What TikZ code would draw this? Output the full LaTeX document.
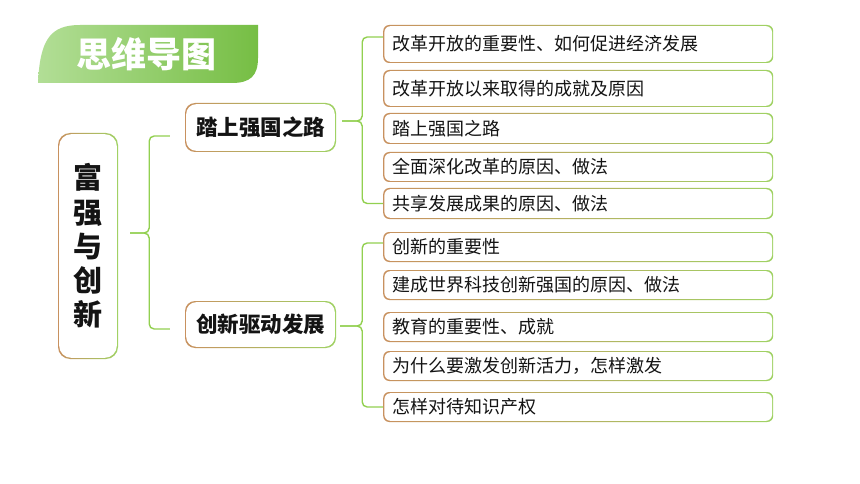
\documentclass[tikz,border=0pt]{standalone}
\usepackage{fontspec}
\setmainfont{Noto Sans CJK SC}
\usetikzlibrary{calc}
\definecolor{bL}{RGB}{200,145,95}
\definecolor{bR}{RGB}{160,210,100}
\definecolor{brk}{RGB}{146,208,80}
\definecolor{tL}{RGB}{178,222,150}
\definecolor{tR}{RGB}{118,190,68}
\definecolor{txt}{RGB}{20,20,20}
\begin{document}
\begin{tikzpicture}[x=1pt,y=-1pt,
  gbox/.style={rounded corners=#1, left color=bL, right color=bR,
    path picture={\fill[white,rounded corners=#1]
      ($(path picture bounding box.south west)+(1.2pt,1.2pt)$) rectangle
      ($(path picture bounding box.north east)-(1.2pt,1.2pt)$);}},
  subbox/.style={gbox=6pt, minimum width=390pt, text width=372pt, align=left,
    inner xsep=9pt, inner ysep=0pt, anchor=west, text=txt,
    font=\fontsize{18}{20}\selectfont},
  mainbox/.style={gbox=10pt, minimum width=151pt, inner sep=0pt, text=txt,
    font=\bfseries\fontsize{21.5}{24}\selectfont},
  brace/.style={draw=brk, line width=1.4pt, rounded corners=5pt}]
\useasboundingbox (0,0) rectangle (860,484);
\fill[white] (0,0) rectangle (860,484);
% title banner
\shade[left color=tL, right color=tR]
  (38,83) .. controls (40,40) and (50,25) .. (80,25) -- (258,25) -- (258,58)
  .. controls (258,76) and (250,83) .. (232,83) -- cycle;
\node[text=white, font=\bfseries\fontsize{35}{40}\selectfont, inner sep=0pt] (title) at (146,54) {思维导图};
% main box
\node[gbox=12pt, minimum width=60pt, minimum height=226pt, align=center, inner sep=0pt, text=txt,
  font=\bfseries\fontsize{29}{34.3}\selectfont] (m) at (88,246) {富\\强\\与\\创\\新};
% second level
\node[mainbox, minimum height=49pt] (n1) at (260.5,127.5) {踏上强国之路};
\node[mainbox, minimum height=47pt] (n2) at (260.5,324.5) {创新驱动发展};
% leaves
\node[subbox, minimum height=38pt] (b1) at (383,44) {改革开放的重要性、如何促进经济发展};
\node[subbox, minimum height=37pt] (b2) at (383,88.5) {改革开放以来取得的成就及原因};
\node[subbox, minimum height=31pt] (b3) at (383,128.5) {踏上强国之路};
\node[subbox, minimum height=30pt] (b4) at (383,167) {全面深化改革的原因、做法};
\node[subbox, minimum height=31pt] (b5) at (383,203.5) {共享发展成果的原因、做法};
\node[subbox, minimum height=30pt] (b6) at (383,247) {创新的重要性};
\node[subbox, minimum height=30pt] (b7) at (383,285) {建成世界科技创新强国的原因、做法};
\node[subbox, minimum height=30pt] (b8) at (383,327) {教育的重要性、成就};
\node[subbox, minimum height=30pt] (b9) at (383,366) {为什么要激发创新活力，怎样激发};
\node[subbox, minimum height=30pt] (b10) at (383,407) {怎样对待知识产权};
% brace 1
\coordinate (t1) at ($(m.east)+(12pt,13pt)$);
\coordinate (v1) at ($(t1)+(19pt,0)$);
\coordinate (a1) at ($(n1.west)+(-15pt,-8.5pt)$);
\coordinate (z1) at ($(n2.west)+(-15pt,-4.5pt)$);
\draw[brace] (a1) -- (a1 -| v1) -- (v1) -- (t1);
\draw[brace] (z1) -- (z1 -| v1) -- (v1) -- (t1);
% brace 2
\coordinate (t2) at ($(n1.east)+(6pt,6.5pt)$);
\coordinate (v2) at ($(t2)+(20pt,0)$);
\coordinate (a2) at ($(b1.west)+(0,7pt)$);
\coordinate (z2) at (b5.west);
\draw[brace] (a2) -- (a2 -| v2) -- (v2) -- (t2);
\draw[brace] (z2) -- (z2 -| v2) -- (v2) -- (t2);
% brace 3
\coordinate (t3) at ($(n2.east)+(4pt,-1.5pt)$);
\coordinate (v3) at ($(t3)+(22pt,0)$);
\coordinate (a3) at ($(b6.west)+(0,4pt)$);
\coordinate (z3) at (b10.west);
\draw[brace] (a3) -- (a3 -| v3) -- (v3) -- (t3);
\draw[brace] (z3) -- (z3 -| v3) -- (v3) -- (t3);
\end{tikzpicture}
\end{document}
